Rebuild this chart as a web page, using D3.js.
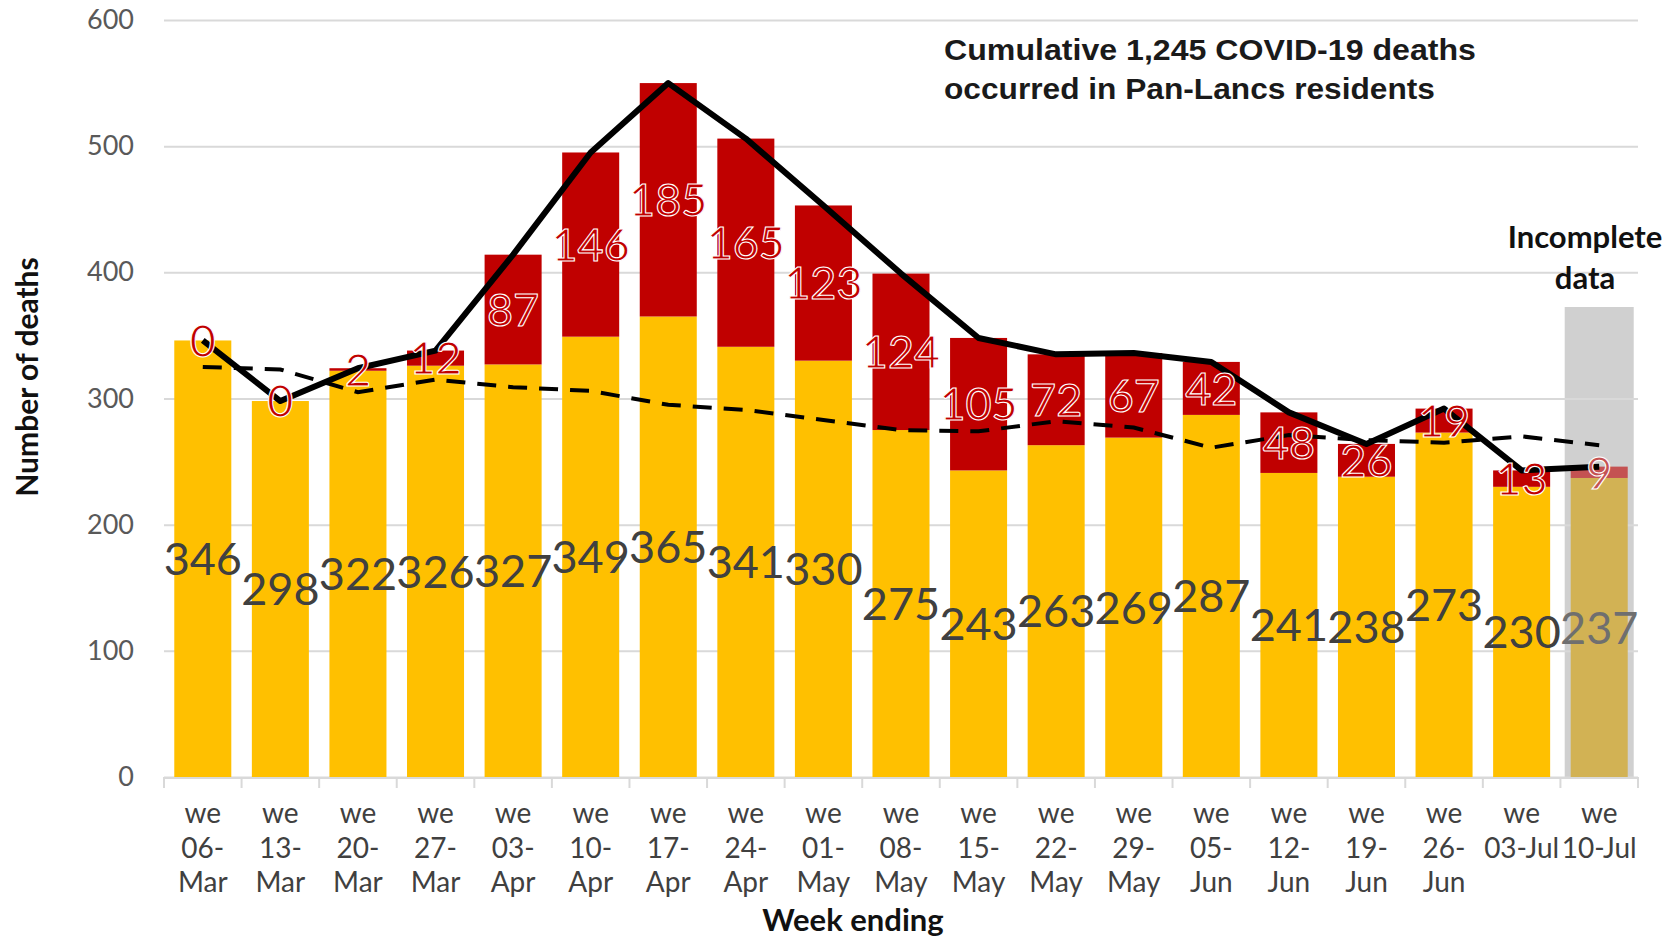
<!DOCTYPE html>
<html>
<head>
<meta charset="utf-8">
<script src="https://cdn.jsdelivr.net/npm/d3@7"></script>
<style>
  body { margin: 0; background: #fff; }
  svg { display: block; font-family: Lato, "Open Sans", sans-serif; }
</style>
</head>
<body>
<svg width="1678" height="939"></svg>
<script>
// week ending labels (first line "we" is added when drawing)
let weeks = ["06-Mar", "13-Mar", "20-Mar", "27-Mar", "03-Apr", "10-Apr", "17-Apr", "24-Apr",
  "01-May", "08-May", "15-May", "22-May", "29-May", "05-Jun", "12-Jun", "19-Jun", "26-Jun",
  "03-Jul", "10-Jul"];

// non-covid deaths (yellow part)
let otherDeaths = [346, 298, 322, 326, 327, 349, 365, 341, 330, 275, 243, 263, 269, 287, 241, 238, 273, 230, 237];
// covid-19 deaths (red part)
let covidDeaths = [0, 0, 2, 12, 87, 146, 185, 165, 123, 124, 105, 72, 67, 42, 48, 26, 19, 13, 9];
// all deaths line (solid)
let allDeaths = [346, 298, 324, 338, 414, 495, 550, 506, 453, 399, 348, 335, 336, 329, 289, 264, 292, 243, 246];
// average deaths line (dashed)
let avgDeaths = [325, 323, 305, 315, 309, 306, 295, 291, 283, 275, 274, 282, 277, 261, 271, 267, 265, 270, 263];

let yTicks = [0, 100, 200, 300, 400, 500, 600];
let incompleteWeek = "10-Jul";

let svg = d3.select("svg"),
  plotLeft = 164,
  plotRight = 1638,
  plotTop = 20,
  plotBottom = 777;

let x = d3.scaleBand().domain(weeks).range([plotLeft, plotRight]).paddingInner(0.265).paddingOuter(0.1325),
  y = d3.scaleLinear().domain([0, 600]).range([plotBottom, plotTop]);

let step = x.step(),
  bw = x.bandwidth();

let data = weeks.map(function (w, i) {
  return { week: w, other: otherDeaths[i], covid: covidDeaths[i], all: allDeaths[i], avg: avgDeaths[i] };
});

// grey box behind the incomplete week
svg.append("rect")
  .attr("x", x(incompleteWeek) - 6)
  .attr("y", 307)
  .attr("width", bw + 12)
  .attr("height", plotBottom + 2 - 307)
  .attr("fill", "#d0d0d0");

// gridlines + y labels
let yAxis = svg.append("g")
  .attr("transform", "translate(" + plotLeft + ",0)")
  .call(d3.axisLeft(y).tickValues(yTicks).tickSize(-(plotRight - plotLeft)).tickPadding(30));
yAxis.select(".domain").remove();
yAxis.selectAll("line").attr("stroke", "#d9d9d9").attr("stroke-width", 2);
yAxis.selectAll("text")
  .attr("fill", "#595959")
  .style("font-size", "27px")
  .style("font-family", "Lato");

// stacked bars
let bars = svg.append("g");
bars.selectAll(".other")
  .data(data)
  .enter()
  .append("rect")
  .attr("x", function (d) { return x(d.week); })
  .attr("y", function (d) { return y(d.other); })
  .attr("width", bw)
  .attr("height", function (d) { return y(0) - y(d.other); })
  .attr("fill", function (d) { return d.week == incompleteWeek ? "#d2b254" : "#ffc000"; });

bars.selectAll(".covid")
  .data(data)
  .enter()
  .append("rect")
  .attr("x", function (d) { return x(d.week); })
  .attr("y", function (d) { return y(d.other + d.covid); })
  .attr("width", bw)
  .attr("height", function (d) { return y(d.other) - y(d.other + d.covid); })
  .attr("fill", function (d) { return d.week == incompleteWeek ? "#c45252" : "#c00000"; });

// x axis line and ticks
let xAxis = svg.append("g");
xAxis.append("line")
  .attr("x1", plotLeft).attr("x2", plotRight)
  .attr("y1", plotBottom + 1).attr("y2", plotBottom + 1)
  .attr("stroke", "#d9d9d9").attr("stroke-width", 2);
xAxis.selectAll(".tick")
  .data(weeks.concat(["end"]))
  .enter()
  .append("line")
  .attr("x1", function (d, i) { return plotLeft + i * step; })
  .attr("x2", function (d, i) { return plotLeft + i * step; })
  .attr("y1", plotBottom).attr("y2", plotBottom + 11)
  .attr("stroke", "#d9d9d9").attr("stroke-width", 2);

// tick labels, split like Excel wraps them
let tl = xAxis.selectAll(".lbl")
  .data(weeks)
  .enter()
  .append("text")
  .attr("text-anchor", "middle")
  .attr("fill", "#404040")
  .style("font-size", "28px")
  .attr("transform", function (d) { return "translate(" + (x(d) + bw / 2) + ",0)"; });
tl.each(function (d) {
  let t = d3.select(this);
  let lines = d.indexOf("Jul") > -1 ? ["we", d] : ["we", d.slice(0, 3), d.slice(3)];
  lines.forEach(function (s, k) {
    t.append("tspan").attr("x", 0).attr("y", 823 + k * 34.5).text(s);
  });
});

// lines
let line = d3.line()
  .x(function (d) { return x(d.week) + bw / 2; });

svg.append("path")
  .datum(data)
  .attr("fill", "none")
  .attr("stroke", "#000")
  .attr("stroke-width", 4)
  .attr("stroke-dasharray", "19,12")
  .attr("d", line.y(function (d) { return y(d.avg); }));

svg.append("path")
  .datum(data)
  .attr("fill", "none")
  .attr("stroke", "#000")
  .attr("stroke-width", 6)
  .attr("stroke-linejoin", "round")
  .attr("d", line.y(function (d) { return y(d.all); }));

// data labels
svg.append("g").selectAll("text")
  .data(data)
  .enter()
  .append("text")
  .attr("x", function (d) { return x(d.week) + bw / 2; })
  .attr("y", function (d) { return y(d.other / 2); })
  .attr("dy", "0.36em")
  .attr("text-anchor", "middle")
  .attr("fill", function (d) { return d.week == incompleteWeek ? "#6f6f6f" : "#404040"; })
  .style("font-size", "45px")
  .text(function (d) { return d.other; });

svg.append("g").selectAll("text")
  .data(data)
  .enter()
  .append("text")
  .attr("x", function (d) { return x(d.week) + bw / 2; })
  .attr("y", function (d) { return y(d.other + d.covid / 2); })
  .attr("dy", "0.36em")
  .attr("text-anchor", "middle")
  .attr("fill", function (d) { return d.week == incompleteWeek ? "#c45252" : "#c00000"; })
  .attr("stroke", "#fff")
  .attr("stroke-width", 1.1)
  .style("font-size", "45px")
  .text(function (d) { return d.covid; });

// axis titles
svg.append("text")
  .attr("transform", "translate(38,377) rotate(-90)")
  .attr("text-anchor", "middle")
  .attr("fill", "#111")
  .style("font-size", "30px")
  .style("font-weight", "bold")
  .text("Number of deaths");

svg.append("text")
  .attr("x", 853)
  .attr("y", 931)
  .attr("text-anchor", "middle")
  .attr("fill", "#111")
  .style("font-size", "31px")
  .style("font-weight", "bold")
  .text("Week ending");

// incomplete data note
let note = svg.append("text")
  .attr("text-anchor", "middle")
  .attr("fill", "#111")
  .style("font-size", "31px")
  .style("font-weight", "bold");
note.append("tspan").attr("x", 1585).attr("y", 248).text("Incomplete");
note.append("tspan").attr("x", 1585).attr("y", 289).text("data");

// cumulative annotation
let ann = svg.append("text")
  .attr("fill", "#1a1a1a")
  .style("font-family", "'Liberation Sans', Arial, sans-serif")
  .style("font-size", "29px")
  .style("font-weight", "bold");
ann.append("tspan").attr("x", 944).attr("y", 60)
  .attr("textLength", 532).attr("lengthAdjust", "spacingAndGlyphs")
  .text("Cumulative 1,245 COVID-19 deaths");
ann.append("tspan").attr("x", 944).attr("y", 99)
  .attr("textLength", 491).attr("lengthAdjust", "spacingAndGlyphs")
  .text("occurred in Pan-Lancs residents");
</script>
</body>
</html>
